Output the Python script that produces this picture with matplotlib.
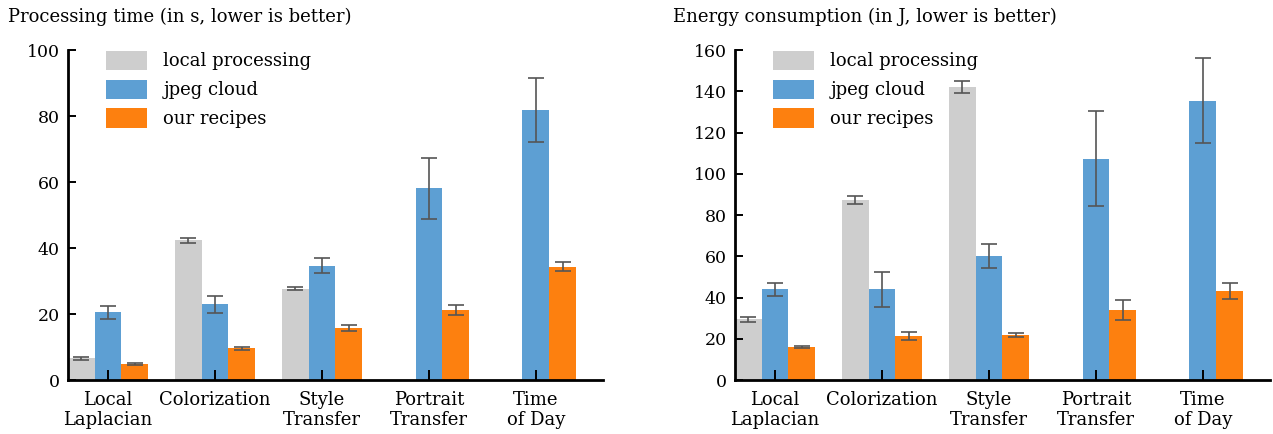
import numpy as np
import matplotlib.pyplot as plt

plt.rcParams['font.family'] = ['DejaVu Serif']

# Data
tasks = ["Local\nLaplacian", "Colorization", "Style\nTransfer", "Portrait\nTransfer", "Time\nof Day"]
methods = ["local processing", "jpeg cloud", "our recipes"]
colors = ["#cecece", "#5d9fd3", "#fd800f"]

time_local = [6.6, 42.3, 27.7, np.nan, np.nan]
time_local_err = [0.5, 0.8, 0.4, np.nan, np.nan]
time_jpeg = [20.5, 22.9, 34.7, 58.1, 81.9]
time_jpeg_err = [1.9, 2.7, 2.3, 9.2, 9.6]
time_ours = [5.0, 9.6, 15.7, 21.1, 34.4]
time_ours_err = [0.3, 0.4, 0.9, 1.5, 1.5]

energy_local = [29.4, 87.2, 142.3, np.nan, np.nan]
energy_local_err = [1.4, 2.0, 2.9, np.nan, np.nan]
energy_jpeg = [44.0, 44.0, 60.1, 107.4, 135.5]
energy_jpeg_err = [3.2, 8.5, 6.0, 22.9, 20.5]
energy_ours = [15.9, 21.4, 21.9, 34.0, 43.2]
energy_ours_err = [0.6, 1.8, 0.8, 5.0, 3.9]

fig = plt.figure(figsize=(12.73, 4.34), dpi=100)
ax1 = fig.add_axes([0.0534, 0.1244, 0.420, 0.760])
ax2 = fig.add_axes([0.5774, 0.1244, 0.420, 0.760])

panels = [
    (ax1, [time_local, time_jpeg, time_ours], [time_local_err, time_jpeg_err, time_ours_err],
     100, 20, "Processing time (in s, lower is better)", 0.006),
    (ax2, [energy_local, energy_jpeg, energy_ours], [energy_local_err, energy_jpeg_err, energy_ours_err],
     160, 20, "Energy consumption (in J, lower is better)", 0.529),
]

x = np.arange(len(tasks))
w = 0.25
for ax, series, errs, ymax, step, title, tx in panels:
    for i in range(3):
        ax.bar(x + (i - 1) * w, series[i], w, color=colors[i], label=methods[i],
               yerr=errs[i], error_kw=dict(ecolor="#555555", elinewidth=1.2, capsize=6, capthick=1.2))
    ax.set_xlim(-0.375, len(tasks) - 0.375)
    ax.set_ylim(0, ymax)
    ax.set_yticks(np.arange(0, ymax + 1, step))
    ax.set_xticks(x)
    ax.set_xticklabels(tasks, fontsize=13, linespacing=1.12)
    ax.tick_params(axis='y', direction='in', length=6, width=1.4, labelsize=12.5, pad=6)
    ax.tick_params(axis='x', direction='in', length=7, width=1.4, pad=8)
    for s in ['top', 'right']:
        ax.spines[s].set_visible(False)
    for s in ['left', 'bottom']:
        ax.spines[s].set_linewidth(2)
    ax.legend(loc='upper left', bbox_to_anchor=(0.04, 1.048), frameon=False, fontsize=13,
              handlelength=2.3, handleheight=1.3, handletextpad=0.9, labelspacing=0.5)
    fig.text(tx, 0.962, title, fontsize=13, ha='left', va='center')

plt.savefig("out.png", dpi=100)
